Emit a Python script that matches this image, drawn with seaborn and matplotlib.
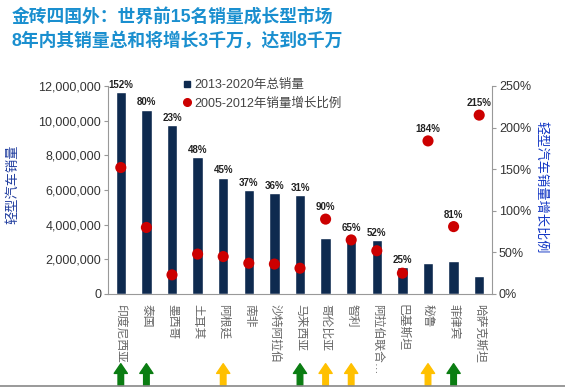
import numpy as np
import pandas as pd
import matplotlib
matplotlib.use("Agg")
import matplotlib.pyplot as plt
from matplotlib.lines import Line2D
import seaborn as sns

# Data
countries = ["印度尼西亚", "泰国", "墨西哥", "土耳其", "阿根廷", "南非", "沙特阿拉伯",
             "马来西亚", "哥伦比亚", "智利", "阿拉伯联合…", "巴基斯坦", "秘鲁", "菲律宾",
             "哈萨克斯坦"]
sales_2013_2020 = [11650000, 10640000, 9730000, 7910000, 6720000, 5990000, 5840000,
                   5700000, 3210000, 3110000, 3090000, 1570000, 1800000, 1920000, 1060000]
growth_2005_2012 = [152, 80, 23, 48, 45, 37, 36, 31, 90, 65, 52, 25, 184, 81, 215]
arrow_green = ["印度尼西亚", "泰国", "马来西亚", "菲律宾"]
arrow_yellow = ["阿根廷", "哥伦比亚", "智利", "秘鲁"]

df = pd.DataFrame({"country": countries, "sales": sales_2013_2020, "growth": growth_2005_2012})

sns.set_style("white")
plt.rcParams["font.family"] = ["Liberation Sans", "Noto Sans CJK SC"]

navy = "#0e2a4f"
red = "#cc0000"

fig = plt.figure(figsize=(5.65, 3.91), dpi=100)
ax = fig.add_axes([108 / 565, 1 - 294 / 391, 384 / 565, 208 / 391])

sns.barplot(data=df, x="country", y="sales", color=navy, width=0.4, saturation=1, ax=ax)
ax.set_ylim(0, 12000000)
ax.set_xlim(-0.5, len(countries) - 0.5)
ax.set_yticks(np.arange(0, 12000001, 2000000))
ax.set_yticklabels([f"{v:,}" for v in range(0, 12000001, 2000000)], fontsize=9, color="#333333")
ax.set_xticks(range(len(countries)))
ax.set_xticklabels(countries, rotation=-90, fontsize=8.5, color="#666666", va="top")
ax.tick_params(axis="x", length=0, pad=7)
ax.set_xticks(np.arange(-0.5, len(countries), 1), minor=True)
ax.tick_params(axis="x", which="minor", length=4, color="#999999", direction="out")
ax.tick_params(axis="y", length=3, color="#999999", direction="out", left=True, pad=2)
ax.set_xlabel("")
ax.set_ylabel("")
for s in ["left", "bottom"]:
    ax.spines[s].set_color("#999999")
    ax.spines[s].set_linewidth(0.8)
ax.spines["top"].set_visible(False)
ax.spines["right"].set_visible(False)

ax2 = ax.twinx()
sns.scatterplot(x=np.arange(len(countries)), y=df["growth"], color=red, s=64,
                edgecolor="none", ax=ax2, zorder=3)
ax2.set_ylim(0, 250)
ax2.set_yticks(range(0, 251, 50))
ax2.set_yticklabels([f"{v}%" for v in range(0, 251, 50)], fontsize=9, color="#333333")
ax2.tick_params(axis="y", length=3, color="#999999", direction="out", right=True, pad=2)
ax2.set_ylabel("")
for s in ["top", "left", "bottom"]:
    ax2.spines[s].set_visible(False)
ax2.spines["right"].set_color("#999999")
ax2.spines["right"].set_linewidth(0.8)
ax2.set_xlim(-0.5, len(countries) - 0.5)

# percentage labels above bar or dot, whichever is higher
for i, (v, g) in enumerate(zip(sales_2013_2020, growth_2005_2012)):
    bar_pct = v / 12000000 * 250
    if g >= bar_pct - 2:
        ax2.annotate(f"{g}%", (i, g), xytext=(0, 5), textcoords="offset points",
                     ha="center", va="bottom", fontsize=7, fontweight="bold", color="#222222")
    else:
        ax2.annotate(f"{g}%", (i, bar_pct), xytext=(0, 1.5), textcoords="offset points",
                     ha="center", va="bottom", fontsize=7, fontweight="bold", color="#222222")

# arrows below the category labels
trans = ax.get_xaxis_transform()
for i, c in enumerate(countries):
    if c in arrow_green:
        col = "#0b7d12"
    elif c in arrow_yellow:
        col = "#ffc000"
    else:
        continue
    ax.annotate("", xy=(i, -0.335), xytext=(i, -0.44), xycoords=trans, textcoords=trans,
                arrowprops=dict(arrowstyle="simple,head_length=0.7,head_width=0.95,tail_width=0.4",
                                color=col, shrinkA=0, shrinkB=0),
                annotation_clip=False)

fig.add_artist(Line2D([0, 1], [1 - 386 / 391] * 2, color="#888888", lw=1.2,
                      transform=fig.transFigure))

# legend
handles = [Line2D([], [], marker="s", color=navy, ls="none", markersize=5),
           Line2D([], [], marker="o", color=red, ls="none", markersize=5.5)]
fig.legend(handles, ["2013-2020年总销量", "2005-2012年销量增长比例"],
           loc="upper left", bbox_to_anchor=(177 / 565, 1 - 73 / 391), frameon=False,
           fontsize=9, handlelength=0.6, handletextpad=0.3, labelspacing=0.45,
           borderpad=0, labelcolor="#444444")

# axis titles
fig.text(13 / 565, 1 - 184 / 391, "轻型汽车销量", rotation=90, ha="center", va="center",
         fontsize=9.5, color="#1f3c9e")
fig.text(541 / 565, 1 - 187 / 391, "轻型汽车销量增长比例", rotation=270, ha="center", va="center",
         fontsize=9.5, color="#1236c4")

# title
fig.text(12 / 565, 1 - 18 / 391, "金砖四国外：世界前15名销量成长型市场", ha="left", va="center",
         fontsize=12.8, fontweight="bold", color="#1a8fcf")
fig.text(12 / 565, 1 - 41 / 391, "8年内其销量总和将增长3千万，达到8千万", ha="left", va="center",
         fontsize=12.8, fontweight="bold", color="#1a8fcf")

fig.savefig("out.png", dpi=100)
